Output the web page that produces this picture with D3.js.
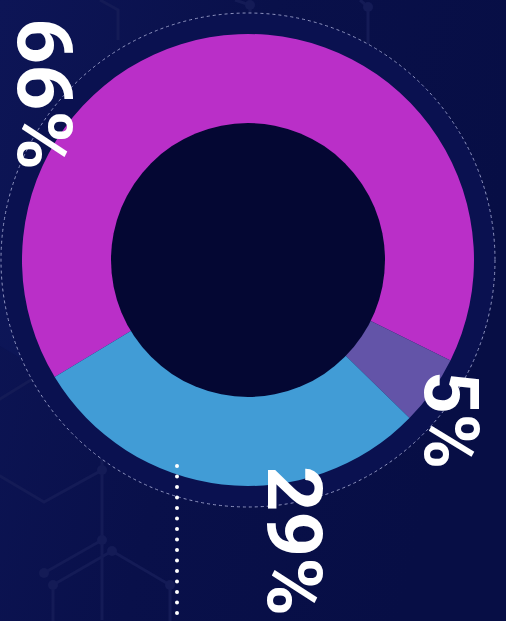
<!DOCTYPE html>
<html>
<head>
<meta charset="utf-8">
<script src="https://cdn.jsdelivr.net/npm/d3@7"></script>
<style>
  html, body { margin: 0; padding: 0; background: #080f48; }
  svg { display: block; }
</style>
</head>
<body>
<div id="chart"></div>
<script>
// Chart data
const categories = ['A', 'B', 'C'];
const values = [66, 5, 29];
const labels = ['66%', '5%', '29%'];
const colors = ['#ba2fc8', '#6354a8', '#419cd6'];

const width = 506;
const height = 621;
const cx = 248, cy = 260;
const outerR = 226, innerR = 137, ringR = 247;

const svg = d3.select('#chart')
    .append('svg')
    .attr('width', width)
    .attr('height', height);

// Background
const defs = svg.append('defs');
const bg = defs.append('linearGradient')
    .attr('id', 'bg')
    .attr('x1', '0').attr('y1', '0').attr('x2', '1').attr('y2', '0.3');
bg.append('stop').attr('offset', '0').attr('stop-color', '#0d1556');
bg.append('stop').attr('offset', '0.5').attr('stop-color', '#09104a');
bg.append('stop').attr('offset', '1').attr('stop-color', '#070e45');

svg.append('rect')
    .attr('width', width)
    .attr('height', height)
    .attr('fill', 'url(#bg)');

// Faint hexagon network decoration
const deco = svg.append('g')
    .attr('stroke', '#141b56')
    .attr('stroke-width', 3)
    .attr('fill', 'none');
const hexLines = [
    [[-10, 470], [44, 502], [102, 470], [102, 405], [44, 372], [-10, 405]],
    [[44, 573], [102, 540], [102, 620]],
    [[53, 585], [112, 551], [170, 585], [170, 621]],
    [[53, 585], [53, 621]],
    [[102, 540], [102, 470]],
    [[235, 0], [250, 5], [250, 60]],
    [[360, 0], [368, 7], [368, 55]],
    [[100, 0], [118, 10], [118, 40]]
];
hexLines.forEach(pts => {
    deco.append('path').attr('d', d3.line()(pts));
});
[[102, 470], [102, 540], [44, 573], [53, 585], [112, 551], [170, 585], [250, 5], [368, 7]].forEach(p => {
    deco.append('circle').attr('cx', p[0]).attr('cy', p[1]).attr('r', 5)
        .attr('fill', '#141b56').attr('stroke', 'none');
});
svg.append('path')
    .attr('d', d3.line()([[-10, 300], [44, 268], [102, 300], [102, 340], [44, 372], [-10, 340]]))
    .attr('fill', '#0f1860').attr('opacity', 0.4);

// Dashed outer ring
svg.append('circle')
    .attr('cx', cx).attr('cy', cy).attr('r', ringR)
    .attr('fill', '#0a1150')
    .attr('stroke', '#8f94c0')
    .attr('stroke-width', 1)
    .attr('stroke-dasharray', '3 3');

// Donut
const pie = d3.pie()
    .sort(null)
    .startAngle(-121.2 * Math.PI / 180)
    .endAngle((360 - 121.2) * Math.PI / 180);

const arc = d3.arc().innerRadius(innerR - 1).outerRadius(outerR);

const g = svg.append('g').attr('transform', `translate(${cx},${cy})`);

g.selectAll('path.slice')
    .data(pie(values))
    .enter()
    .append('path')
    .attr('class', 'slice')
    .attr('d', arc)
    .attr('fill', (d, i) => colors[i]);

g.append('circle')
    .attr('r', innerR)
    .attr('fill', '#040733');

// Dotted vertical line
const yDots = d3.scaleLinear().domain([0, 1]).range([466, 621]);
svg.append('line')
    .attr('x1', 177).attr('x2', 177)
    .attr('y1', yDots(0)).attr('y2', yDots(1))
    .attr('stroke', '#ffffff')
    .attr('stroke-width', 4)
    .attr('stroke-linecap', 'round')
    .attr('stroke-dasharray', '0 10.5');

// Rotated percentage labels
const labelPos = [[18, 94], [425, 420], [268, 541]];
const labelLen = [152, 98, 150];
svg.selectAll('text.pct')
    .data(labels)
    .enter()
    .append('text')
    .attr('class', 'pct')
    .attr('transform', (d, i) => `translate(${labelPos[i][0]},${labelPos[i][1]}) rotate(90)`)
    .attr('text-anchor', 'middle')
    .attr('fill', '#ffffff')
    .attr('font-family', 'Roboto, "Open Sans", sans-serif')
    .attr('font-weight', 700)
    .attr('font-size', 76)
    .attr('textLength', (d, i) => labelLen[i])
    .attr('lengthAdjust', 'spacingAndGlyphs')
    .text(d => d);
</script>
</body>
</html>
